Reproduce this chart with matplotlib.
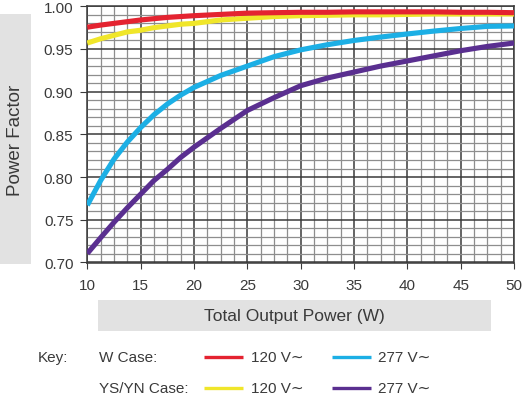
import matplotlib
matplotlib.use("Agg")
import matplotlib.pyplot as plt
from matplotlib.ticker import MultipleLocator, FormatStrFormatter
from matplotlib.patches import Rectangle
from matplotlib.lines import Line2D

# ---- data ----
power_w = [10, 11.25, 12.5, 13.75, 15, 16.25, 17.5, 18.75, 20, 22.5, 25,
           27.5, 30, 32.5, 35, 37.5, 40, 42.5, 45, 47.5, 50]
w_case_120 = [0.9755, 0.978, 0.980, 0.982, 0.984, 0.9855, 0.987, 0.988, 0.989,
              0.9905, 0.992, 0.9925, 0.993, 0.993, 0.9935, 0.9935, 0.9935,
              0.9935, 0.993, 0.993, 0.9925]
ysyn_case_120 = [0.957, 0.962, 0.966, 0.970, 0.972, 0.975, 0.977, 0.979, 0.980,
                 0.984, 0.986, 0.988, 0.989, 0.9895, 0.990, 0.990, 0.9905,
                 0.991, 0.991, 0.991, 0.991]
w_case_277 = [0.767, 0.796, 0.821, 0.841, 0.858, 0.873, 0.8855, 0.896, 0.905,
              0.919, 0.930, 0.941, 0.949, 0.955, 0.960, 0.964, 0.9676, 0.971,
              0.974, 0.9765, 0.977]
ysyn_case_277 = [0.7105, 0.729, 0.747, 0.764, 0.780, 0.796, 0.809, 0.823, 0.835,
                 0.857, 0.878, 0.893, 0.907, 0.916, 0.923, 0.930, 0.936, 0.942,
                 0.948, 0.953, 0.957]

x_label = "Total Output Power (W)"
y_label = "Power Factor"
legend_rows = ["W Case:", "YS/YN Case:"]
legend_labels = ["120 V\u223c", "277 V\u223c"]

RED = "#e42330"
YELLOW = "#f0e62a"
BLUE = "#1cafe5"
PURPLE = "#5a2f90"
TXT = "#3a3a3a"
FONT = ["Liberation Sans", "DejaVu Sans"]

plt.rcParams["font.family"] = FONT

W, H = 529, 414
fig = plt.figure(figsize=(W / 100, H / 100), dpi=100)
fig.patch.set_facecolor("white")

ax = fig.add_axes([87.3 / W, 1 - 263.5 / H, (514 - 87.3) / W, (263.5 - 7.3) / H])

lw = 3.7
ax.plot(power_w, w_case_277, color=BLUE, lw=lw, solid_capstyle="butt", zorder=3)
ax.plot(power_w, ysyn_case_277, color=PURPLE, lw=lw, solid_capstyle="butt", zorder=3)
ax.plot(power_w, ysyn_case_120, color=YELLOW, lw=lw, solid_capstyle="butt", zorder=3)
ax.plot(power_w, w_case_120, color=RED, lw=lw, solid_capstyle="butt", zorder=4)

ax.set_xlim(10, 50)
ax.set_ylim(0.70, 1.00)
ax.xaxis.set_major_locator(MultipleLocator(5))
ax.xaxis.set_minor_locator(MultipleLocator(1.25))
ax.yaxis.set_major_locator(MultipleLocator(0.05))
ax.yaxis.set_minor_locator(MultipleLocator(0.01))
ax.yaxis.set_major_formatter(FormatStrFormatter("%.2f"))

ax.set_axisbelow(True)
ax.grid(which="minor", color="#8e8e8e", lw=0.9)
ax.grid(which="major", color="#3a3a3a", lw=1.1)
for s in ax.spines.values():
    s.set_color("#3a3a3a")
    s.set_linewidth(1.1)

ax.tick_params(axis="both", which="major", direction="out", color="#3a3a3a",
               labelcolor=TXT, labelsize=11)
ax.tick_params(axis="y", which="major", length=5, pad=5)
ax.tick_params(axis="x", which="major", length=4, pad=7)
ax.tick_params(which="minor", length=0)

# y label box
fig.add_artist(Rectangle((0, 1 - 265 / H), 30.7 / W, 250 / H,
                         transform=fig.transFigure, facecolor="#e2e2e2",
                         edgecolor="none", zorder=0))
fig.text(15.5 / W, 1 - 140 / H, y_label, rotation=90, ha="center", va="center",
         fontsize=13.5, color=TXT)

# x label box
fig.add_artist(Rectangle((97.7 / W, 1 - 331.7 / H), (491 - 97.7) / W, 30.7 / H,
                         transform=fig.transFigure, facecolor="#e2e2e2",
                         edgecolor="none", zorder=0))
fig.text(294.5 / W, 1 - 316.5 / H, x_label, ha="center", va="center",
         fontsize=12.5, color=TXT)

# key
row_y = [1 - 358 / H, 1 - 389 / H]
fig.text(38 / W, row_y[0], "Key:", ha="left", va="center", fontsize=11, color=TXT)
colors = [[RED, BLUE], [YELLOW, PURPLE]]
sw_x = [(204 / W, 243 / W), (332 / W, 371 / W)]
lab_x = [251 / W, 378 / W]
for r in range(2):
    fig.text(99 / W, row_y[r], legend_rows[r], ha="left", va="center",
             fontsize=11, color=TXT)
    for c in range(2):
        fig.add_artist(Line2D(list(sw_x[c]), [row_y[r], row_y[r]],
                              transform=fig.transFigure, color=colors[r][c],
                              lw=2.4, solid_capstyle="butt"))
        fig.text(lab_x[c], row_y[r], legend_labels[c], ha="left", va="center",
                 fontsize=11, color=TXT, family=FONT)

fig.savefig("out.png", dpi=100, facecolor="white")
